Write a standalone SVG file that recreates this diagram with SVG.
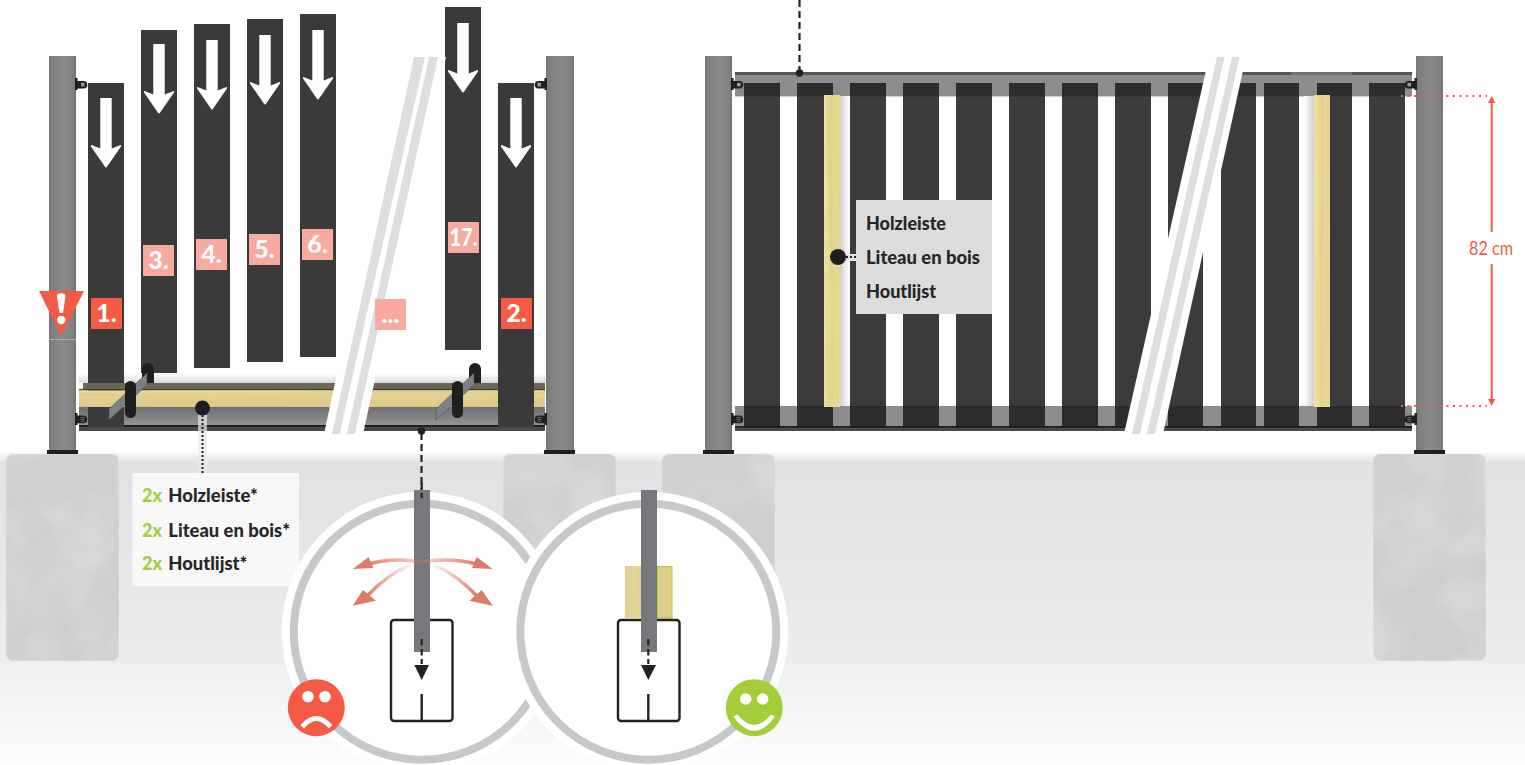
<svg xmlns="http://www.w3.org/2000/svg" width="1525" height="765" viewBox="0 0 1525 765">
<style>
text{font-family:"Lato","Liberation Sans",sans-serif}
.board{fill:#3a3a3a}
.tb{fill:#1e1e1e;fill-opacity:.87}
.num{font-size:25px;font-weight:900;fill:#fff;text-anchor:middle}
.pink{fill:#f9aa9f}.red{fill:#f55a44}
.lbl{font-size:19.500px;font-weight:900;fill:#262626}
.gn{fill:#a4ce39}
.st{fill:#dcdee0}
.bk{fill:#1f1f1f}
.post{fill:url(#post)}
.conc{fill:url(#conc);stroke:#dcddde;stroke-width:1;filter:url(#mottle)}
.ring{fill:#fff;stroke:#c5c9cc;stroke-width:8}
.halo{fill:#fff}
.box{fill:#fff;stroke:#222;stroke-width:2.400}
.strip{fill:#77787b}
.ds{fill:none;stroke:#222;stroke-width:2.200;stroke-dasharray:7 4}
.dot{fill:none;stroke:#222;stroke-width:2;stroke-dasharray:2 2}
.rd{fill:none;stroke:#f55a44;stroke-width:2;stroke-dasharray:2 4.500}
.dim{stroke:#f55a44;stroke-width:2;fill:none}
.arr{fill:#e07a68}
</style>
<defs>
<filter id="mottle" x="0" y="0" width="1" height="1"><feTurbulence type="fractalNoise" baseFrequency=".018" numOctaves="3" seed="4" result="n"/><feColorMatrix in="n" type="matrix" values="0 0 0 0 .9 0 0 0 0 .9 0 0 0 0 .9 .7 0 0 0 -.28" result="m"/><feComposite in="m" in2="SourceGraphic" operator="in" result="c"/><feMerge><feMergeNode in="SourceGraphic"/><feMergeNode in="c"/></feMerge></filter>
<filter id="grainH" x="0" y="0" width="1" height="1"><feTurbulence type="fractalNoise" baseFrequency=".006 .35" numOctaves="2" seed="7" result="n"/><feColorMatrix in="n" type="matrix" values="0 0 0 0 .72 0 0 0 0 .58 0 0 0 0 .3 1.800 0 0 0 -.7" result="m"/><feComposite in="m" in2="SourceGraphic" operator="in" result="c"/><feMerge><feMergeNode in="SourceGraphic"/><feMergeNode in="c"/></feMerge></filter>
<filter id="grainV" x="0" y="0" width="1" height="1"><feTurbulence type="fractalNoise" baseFrequency=".3 .008" numOctaves="2" seed="3" result="n"/><feColorMatrix in="n" type="matrix" values="0 0 0 0 .75 0 0 0 0 .6 0 0 0 0 .3 1.800 0 0 0 -.7" result="m"/><feComposite in="m" in2="SourceGraphic" operator="in" result="c"/><feMerge><feMergeNode in="SourceGraphic"/><feMergeNode in="c"/></feMerge></filter>
<linearGradient id="post" x1="0" x2="1" y1="0" y2="0"><stop offset="0" stop-color="#767676"/><stop offset=".1" stop-color="#7e7e7e"/><stop offset=".55" stop-color="#8b8b8b"/><stop offset=".9" stop-color="#808080"/><stop offset="1" stop-color="#727272"/></linearGradient>
<linearGradient id="conc" x1="0" x2="0" y1="0" y2="1"><stop offset="0" stop-color="#cfd0d1"/><stop offset="1" stop-color="#cccdce"/></linearGradient>
<linearGradient id="ground" x1="0" x2="0" y1="0" y2="1"><stop offset="0" stop-color="#dfe1e2"/><stop offset=".65" stop-color="#eceeee"/><stop offset="1" stop-color="#fdfdfd"/></linearGradient>
<linearGradient id="band" x1="0" x2="0" y1="0" y2="1"><stop offset="0" stop-color="#f4f5f5"/><stop offset="1" stop-color="#e6e8e8"/></linearGradient>
<linearGradient id="wood" x1="0" x2="0" y1="0" y2="1"><stop offset="0" stop-color="#e9d892"/><stop offset="1" stop-color="#dfc885"/></linearGradient>
<linearGradient id="woodV" x1="0" x2="1" y1="0" y2="0"><stop offset="0" stop-color="#f0e6a0"/><stop offset=".5" stop-color="#e4d58c"/><stop offset="1" stop-color="#e9dd94"/></linearGradient>
<linearGradient id="railg" x1="0" x2="0" y1="0" y2="1"><stop offset="0" stop-color="#6e6e6e"/><stop offset="1" stop-color="#939393"/></linearGradient>
<linearGradient id="sh" x1="0" x2="0" y1="0" y2="1"><stop offset="0" stop-color="#fff"/><stop offset="1" stop-color="#dadada"/></linearGradient>
<linearGradient id="shR" x1="0" x2="1" y1="0" y2="0"><stop offset="0" stop-color="#d0d0d0"/><stop offset="1" stop-color="#fff"/></linearGradient>
<linearGradient id="shL" x1="1" x2="0" y1="0" y2="0"><stop offset="0" stop-color="#d0d0d0"/><stop offset="1" stop-color="#fff"/></linearGradient>
<linearGradient id="fadeL" gradientUnits="userSpaceOnUse" x1="421" y1="562" x2="365" y2="565"><stop offset="0" stop-color="#e07a68" stop-opacity=".3"/><stop offset="1" stop-color="#e07a68"/></linearGradient>
<linearGradient id="fadeR" gradientUnits="userSpaceOnUse" x1="422" y1="562" x2="478" y2="565"><stop offset="0" stop-color="#e07a68" stop-opacity=".3"/><stop offset="1" stop-color="#e07a68"/></linearGradient>
<linearGradient id="fadeLd" gradientUnits="userSpaceOnUse" x1="412" y1="564" x2="368" y2="596"><stop offset="0" stop-color="#e07a68" stop-opacity=".05"/><stop offset="1" stop-color="#e07a68"/></linearGradient>
<linearGradient id="fadeRd" gradientUnits="userSpaceOnUse" x1="432" y1="564" x2="476" y2="596"><stop offset="0" stop-color="#e07a68" stop-opacity=".05"/><stop offset="1" stop-color="#e07a68"/></linearGradient>
<path id="arrow" fill="#fff" d="M-5.700 0H5.700V50.500L14.500 47Q15.500 47 15 48.500L0.800 69Q0 70 -0.800 69L-15 48.500Q-15.500 47 -14.500 47L-5.700 50.500Z"/>
<g id="clip1"><path class="bk" d="M142 383V369a6 6 0 0 1 12 0V383Z"/><polygon fill="#7d8184" stroke="#444" stroke-width=".5" points="109,409 109,420 147,385 147,373"/><rect class="bk" x="125" y="381" width="11" height="37" rx="5.500"/></g>
<g id="hingeT"><path class="bk" d="M0 0h2.500v3h6a3.800 3.800 0 0 1 0 7.600h-6v1.400h-2.500z"/><rect x="6" y="4.800" width="3.600" height="3.600" fill="#999"/></g>
<g id="hingeB"><path class="bk" d="M0 0h2.500v2.600h6a3.800 3.800 0 0 1 0 7.600h-6v1.800h-2.500z"/><path d="M5.500 4.600h4M5.500 6.400h4M5.500 8.200h4" stroke="#888" stroke-width=".7"/></g>
</defs>

<g id="ground-area">
<rect x="0" y="453" width="1525" height="9" fill="url(#band)"/>
<rect x="0" y="462" width="1525" height="303" fill="url(#ground)"/>
</g>

<g id="foundations">
<rect class="conc" x="6" y="454" width="113" height="207" rx="8"/>
<rect class="conc" x="503" y="454" width="113" height="207" rx="8"/>
<rect class="conc" x="662" y="454" width="113" height="207" rx="8"/>
<rect class="conc" x="1373" y="454" width="113" height="207" rx="8"/>
</g>

<g id="left-gate">
<rect x="79" y="373" width="467" height="10" fill="url(#sh)"/>
<g id="left-posts">
<rect class="post" x="49" y="56" width="27" height="395"/><rect x="49" y="339" width="27" height="1" fill="#a8a8a8"/><rect class="bk" x="47" y="450" width="31" height="4"/>
<rect class="post" x="546" y="56" width="28" height="395"/><rect class="bk" x="544" y="450" width="31" height="4"/>
</g>
<g id="left-rail-lower">
<rect x="79" y="407" width="466" height="18" fill="url(#railg)"/>
<rect x="79" y="425" width="466" height="2" fill="#222"/><rect x="79" y="427" width="466" height="4" fill="#4a4a4a"/>
</g>
<rect class="board" x="88" y="83" width="36" height="344"/>
<rect class="board" x="141" y="30" width="36" height="343"/>
<rect class="board" x="194" y="24" width="36" height="344"/>
<rect class="board" x="247" y="19" width="36" height="343"/>
<rect class="board" x="300" y="14" width="36" height="343"/>
<rect class="board" x="445" y="7" width="36" height="343"/>
<g id="left-rail-upper">
<rect x="83" y="383" width="462" height="7" fill="#6b6558"/>
<rect x="79" y="389" width="466" height="1.500" fill="#3c3a34"/>
<rect x="79" y="390.500" width="466" height="16.500" fill="url(#wood)" filter="url(#grainH)"/>
</g>
<rect class="board" x="498" y="83" width="36" height="344"/>
<use href="#arrow" x="106" y="98"/><use href="#arrow" x="159" y="44"/><use href="#arrow" x="212" y="40"/><use href="#arrow" x="265" y="35"/><use href="#arrow" x="318" y="30"/><use href="#arrow" x="463" y="23"/><use href="#arrow" x="516" y="98"/>
<use href="#clip1"/>
<use href="#clip1" x="327"/>
<g id="left-break">
<polygon fill="#fff" points="405,57 446,57 363,434 324,434"/>
<polygon class="st" points="414,57 425,57 339.500,434 332,434"/>
<polygon class="st" points="429,57 438,57 355,434 347,434"/>
</g>
<g id="hinges-left">
<use href="#hingeT" x="75" y="78"/>
<use href="#hingeB" x="75" y="413"/>
<use href="#hingeT" transform="translate(547,78) scale(-1,1)"/>
<use href="#hingeB" transform="translate(547,413) scale(-1,1)"/>
</g>
</g>

<g id="label-1"><rect class="red" x="91" y="298" width="31" height="31"/><text class="num" x="106.500" y="322">1.</text></g>
<g id="label-2"><rect class="red" x="501" y="298" width="31" height="31"/><text class="num" x="516.500" y="322">2.</text></g>
<g id="label-3"><rect class="pink" x="143" y="245" width="31" height="31"/><text class="num" x="158.500" y="269">3.</text></g>
<g id="label-4"><rect class="pink" x="196" y="239" width="31" height="31"/><text class="num" x="211.500" y="263">4.</text></g>
<g id="label-5"><rect class="pink" x="249" y="234" width="31" height="31"/><text class="num" x="264.500" y="258">5.</text></g>
<g id="label-6"><rect class="pink" x="302" y="229" width="31" height="31"/><text class="num" x="317.500" y="253">6.</text></g>
<g id="label-17"><rect class="pink" x="448" y="222" width="31" height="31"/><text class="num" x="463.500" y="246" textLength="28" lengthAdjust="spacingAndGlyphs">17.</text></g>
<g id="label-dots"><rect class="pink" x="375" y="299" width="31" height="31"/><text class="num" x="390.500" y="323">...</text></g>
<g id="warning"><polygon class="red" points="39,291 84,291 61.300,336"/><path fill="#fff" d="M57 296.500a4 3 0 0 1 8.500 0L63 313h-3.500z"/><circle cx="61.300" cy="320" r="4.200" fill="#fff"/></g>

<g id="right-gate">
<g id="right-posts">
<rect class="post" x="705" y="56" width="27" height="395"/><rect class="bk" x="703" y="450" width="31" height="4"/>
<rect class="post" x="1416" y="56" width="27" height="395"/><rect class="bk" x="1414" y="450" width="31" height="4"/>
</g>
<g id="right-rails">
<rect x="735" y="72" width="677" height="24" fill="#8c8c8c"/><rect x="735" y="72" width="677" height="3" fill="#555"/><rect x="1291" y="72" width="61" height="3" fill="#747474"/><rect x="735" y="96" width="677" height="1" fill="#ccc"/>
<rect x="735" y="406" width="677" height="20" fill="#8c8c8c"/><rect x="735" y="426" width="677" height="2" fill="#222"/><rect x="735" y="428" width="677" height="3" fill="#4a4a4a"/>
</g>
<rect x="840" y="96" width="10" height="310" fill="url(#shR)"/>
<rect x="1304" y="96" width="10" height="310" fill="url(#shL)"/>
<g id="right-boards">
<rect class="tb" x="744" y="83" width="36" height="344"/><rect class="tb" x="797" y="83" width="36" height="344"/><rect class="tb" x="850" y="83" width="36" height="344"/><rect class="tb" x="903" y="83" width="36" height="344"/><rect class="tb" x="956" y="83" width="36" height="344"/><rect class="tb" x="1009" y="83" width="36" height="344"/><rect class="tb" x="1062" y="83" width="36" height="344"/><rect class="tb" x="1115" y="83" width="36" height="344"/><rect class="tb" x="1168" y="83" width="35" height="344"/><rect class="tb" x="1221" y="83" width="35" height="344"/><rect class="tb" x="1264" y="83" width="35" height="344"/><rect class="tb" x="1317" y="83" width="35" height="344"/><rect class="tb" x="1369" y="83" width="36" height="344"/>
</g>
<rect x="824" y="95" width="16" height="312" fill="url(#woodV)" filter="url(#grainV)"/>
<rect x="1314" y="95" width="16" height="312" fill="url(#woodV)" filter="url(#grainV)"/>
<g id="right-break">
<polygon fill="#fff" points="1209,57 1246,57 1163,434 1124,434"/>
<polygon class="st" points="1217,57 1224.500,57 1140,434 1132,434"/>
<polygon class="st" points="1232,57 1239.500,57 1155,434 1147,434"/>
</g>
<g id="hinges-right">
<use href="#hingeT" x="731" y="78"/>
<use href="#hingeB" x="731" y="413"/>
<use href="#hingeT" transform="translate(1417,78) scale(-1,1)"/>
<use href="#hingeB" transform="translate(1417,413) scale(-1,1)"/>
</g>
</g>

<g id="connectors">
<rect x="198" y="415" width="9" height="58" fill="#e9e9e9" opacity=".7"/>
<path class="dot" d="M202.500 415V473"/>
<circle cx="202.500" cy="408" r="7.500" fill="#1f1f1f"/>
<circle cx="421.500" cy="431" r="3.700" fill="#1f1f1f"/>
<path class="ds" d="M421.500 433V490"/>
<circle cx="799.500" cy="73" r="3.700" fill="#1f1f1f"/>
<path class="ds" d="M799.500 0V72"/>
<rect x="846" y="254" width="10" height="7" fill="#e5e5e5"/>
<path class="dot" d="M846 257H856"/>
<circle cx="838" cy="257" r="8" fill="#1f1f1f"/>
</g>

<g id="callout-2x">
<rect x="132.500" y="473" width="166.500" height="113" fill="#f8f8f8"/>
<text class="lbl gn" x="142" y="502" textLength="20" lengthAdjust="spacingAndGlyphs">2x</text><text class="lbl" x="168.300" y="502" textLength="89.500" lengthAdjust="spacingAndGlyphs">Holzleiste*</text>
<text class="lbl gn" x="142" y="536.500" textLength="20" lengthAdjust="spacingAndGlyphs">2x</text><text class="lbl" x="168.300" y="536.500" textLength="121.700" lengthAdjust="spacingAndGlyphs">Liteau en bois*</text>
<text class="lbl gn" x="142" y="570" textLength="20" lengthAdjust="spacingAndGlyphs">2x</text><text class="lbl" x="168.300" y="570" textLength="79" lengthAdjust="spacingAndGlyphs">Houtlijst*</text>
</g>

<g id="callout-right">
<rect x="856" y="200" width="136" height="114" fill="#dcdcdc"/>
<text class="lbl" x="866" y="229.500" textLength="80" lengthAdjust="spacingAndGlyphs">Holzleiste</text>
<text class="lbl" x="866" y="263.500" textLength="114" lengthAdjust="spacingAndGlyphs">Liteau en bois</text>
<text class="lbl" x="866" y="297.500" textLength="70" lengthAdjust="spacingAndGlyphs">Houtlijst</text>
</g>

<g id="dimension">
<path class="rd" d="M1401 96H1487"/><path class="rd" d="M1401 406H1487"/>
<path class="dim" d="M1491.700 102V232M1491.700 264V400"/>
<polygon class="red" points="1491.700,96 1495.300,103 1488,103"/><polygon class="red" points="1491.700,406 1495.300,399 1488,399"/>
<text x="1469" y="255" font-size="20" fill="#f55a44" style="font-weight:400" textLength="44" lengthAdjust="spacingAndGlyphs">82 cm</text>
</g>

<g id="circle-bad">
<circle class="halo" cx="421.700" cy="631.700" r="140"/>
<circle class="ring" cx="421.700" cy="631.700" r="128"/>
<rect class="box" x="391" y="620" width="61.500" height="101" rx="3"/>
<path d="M421.700 694V721" stroke="#222" stroke-width="2.400"/>
<rect class="strip" x="414" y="490" width="16" height="162"/>
<path class="ds" d="M421.700 483V498M421.700 639V664" style="stroke-dasharray:6.500 3.500"/>
<polygon fill="#222" points="414.300,665 429,665 421.700,680"/>
<path d="M421 562Q395 557 368 564" fill="none" stroke="url(#fadeL)" stroke-width="3.500"/>
<path d="M422 562Q448 557 477 564" fill="none" stroke="url(#fadeR)" stroke-width="3.500"/>
<path d="M410 565Q388 574 366 597" fill="none" stroke="url(#fadeLd)" stroke-width="3.500"/>
<path d="M434 565Q456 574 478 597" fill="none" stroke="url(#fadeRd)" stroke-width="3.500"/>
<polygon class="arr" points="353,569 368.500,557 373.500,568"/>
<polygon class="arr" points="492.700,569 476.700,557 472,568"/>
<polygon class="arr" points="352.700,605.700 363,590 376,600.700"/>
<polygon class="arr" points="492.700,605.700 481.700,590 469.300,600.700"/>
</g>
<g id="circle-good">
<circle class="halo" cx="648.300" cy="631.700" r="140"/>
<circle class="ring" cx="648.300" cy="631.700" r="128"/>
<rect x="625" y="566" width="16" height="52" fill="#e6d49a" filter="url(#grainV)"/>
<rect x="657.500" y="566.500" width="14.500" height="51.500" fill="#e0cc8a" stroke="#a4ce39"/>
<rect class="box" x="618" y="620" width="61.500" height="101" rx="3"/>
<path d="M648.300 694V721" stroke="#222" stroke-width="2.400"/>
<rect class="strip" x="641" y="490" width="16" height="162"/>
<path class="ds" d="M648.300 639V664" style="stroke-dasharray:6.500 3.500"/>
<polygon fill="#222" points="641,665 656,665 648.300,680"/>
</g>
<g id="face-sad">
<circle class="red" cx="316.300" cy="707.700" r="28.500"/>
<circle cx="308" cy="696.700" r="5.800" fill="#fff"/><circle cx="325" cy="696.700" r="5.800" fill="#fff"/>
<path fill="#fff" d="M300.500 725Q316.300 707 332.500 725L329 728.500Q316.300 713.500 304 728.500Z"/>
</g>
<g id="face-happy">
<circle class="gn" cx="754.300" cy="707.700" r="28.500"/>
<circle cx="745.700" cy="699" r="5.800" fill="#fff"/><circle cx="762.700" cy="699" r="5.800" fill="#fff"/>
<path fill="#fff" d="M733.300 716.500L737.500 714.500Q754 735.500 771 714.500L775 716.500Q754 745.500 733.300 716.500Z"/>
</g>
</svg>
